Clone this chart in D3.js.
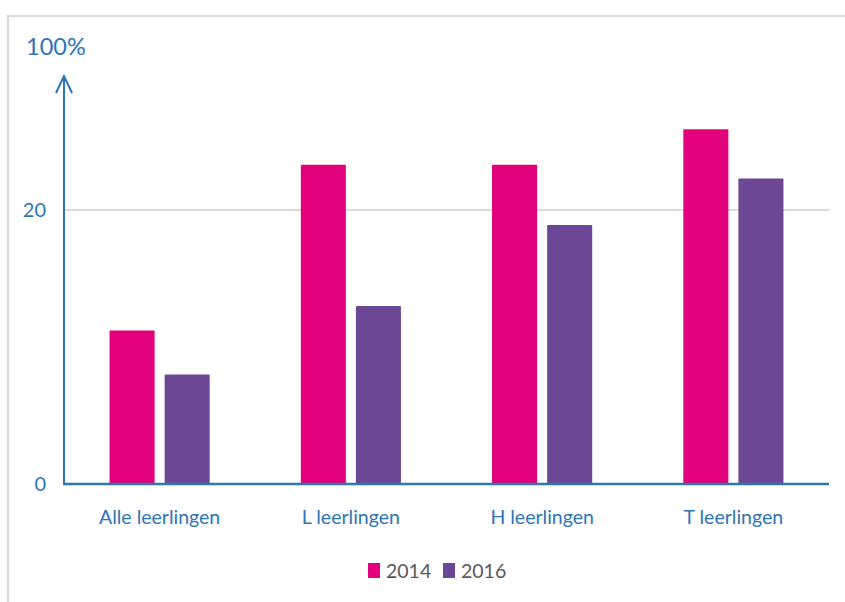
<!DOCTYPE html>
<html>
<head>
<meta charset="utf-8">
<script src="https://cdn.jsdelivr.net/npm/d3@7"></script>
<style>
  html, body { margin: 0; padding: 0; background: #fff; }
  svg { display: block; }
  text { font-family: Lato, "Open Sans", sans-serif; }
</style>
</head>
<body>
<svg id="chart" width="845" height="602"></svg>
<script>
const categories = ["Alle leerlingen", "L leerlingen", "H leerlingen", "T leerlingen"];
const seriesNames = ["2014", "2016"];
const values2014 = [11.2, 23.3, 23.3, 25.9];
const values2016 = [8.0, 13.0, 18.9, 22.3];
const tickValues = [0, 20];
const topLabel = "100%";
const colors = ["#E3007B", "#6C4795"];

const svg = d3.select("#chart");
const W = 845, H = 602;
const left = 64, right = 829, base = 484;

// frame
svg.append("rect").attr("x", 8).attr("y", 16).attr("width", W + 20).attr("height", H + 20)
  .attr("fill", "none").attr("stroke", "#D9D9D9").attr("stroke-width", 2);

const y = d3.scaleLinear().domain([0, 20]).range([base, 210]);
const x0 = d3.scaleBand().domain(categories).range([left, right]).paddingInner(0.4764).paddingOuter(0.2382);
const x1 = d3.scaleBand().domain(seriesNames).range([0, x0.bandwidth()]).paddingInner(0.1818).paddingOuter(0);

// gridlines
svg.append("g").selectAll("line").data(tickValues.filter(d => d > 0)).join("line")
  .attr("x1", left).attr("x2", right).attr("y1", d => y(d)).attr("y2", d => y(d))
  .attr("stroke", "#D9D9D9").attr("stroke-width", 2);

// tick labels
svg.append("g").selectAll("text").data(tickValues).join("text")
  .attr("x", 46).attr("y", d => y(d)).attr("dy", "0.36em")
  .attr("text-anchor", "end").attr("fill", "#2E75B6").attr("font-size", 20)
  .text(d => d);

// bars
const data = categories.map((c, i) => ({ cat: c, vals: [values2014[i], values2016[i]] }));
const groups = svg.append("g").selectAll("g").data(data).join("g")
  .attr("transform", d => `translate(${x0(d.cat)},0)`);
groups.selectAll("rect").data(d => d.vals.map((v, j) => ({ s: seriesNames[j], v, j })))
  .join("rect")
  .attr("x", d => x1(d.s)).attr("width", x1.bandwidth())
  .attr("y", d => y(d.v)).attr("height", d => y(0) - y(d.v))
  .attr("rx", 1)
  .attr("fill", d => colors[d.j]);

// x axis line
svg.append("line").attr("x1", left).attr("x2", right).attr("y1", base).attr("y2", base)
  .attr("stroke", "#2E75B6").attr("stroke-width", 2.5);
// y axis line with arrow
const arrowTop = 76;
svg.append("line").attr("x1", left).attr("x2", left).attr("y1", base + 1).attr("y2", arrowTop)
  .attr("stroke", "#2E75B6").attr("stroke-width", 2);
svg.append("path").attr("d", `M${left - 8},${arrowTop + 17} L${left},${arrowTop} L${left + 8},${arrowTop + 17}`)
  .attr("fill", "none").attr("stroke", "#2E75B6").attr("stroke-width", 2);
svg.append("text").attr("x", 26).attr("y", 55).attr("fill", "#2E75B6").attr("font-size", 23.5).text(topLabel);

// category labels
svg.append("g").selectAll("text").data(categories).join("text")
  .attr("x", d => x0(d) + x0.bandwidth() / 2).attr("y", 524)
  .attr("text-anchor", "middle").attr("fill", "#2E75B6").attr("font-size", 19.5)
  .text(d => d);

// legend
const legendX = [368, 443];
const lg = svg.append("g").selectAll("g").data(seriesNames).join("g")
  .attr("transform", (d, i) => `translate(${legendX[i]},0)`);
lg.append("rect").attr("x", 0).attr("y", 563).attr("width", 12).attr("height", 15)
  .attr("fill", (d, i) => colors[i]);
lg.append("text").attr("x", 18).attr("y", 578).attr("fill", "#595959").attr("font-size", 19.5).text(d => d);
</script>
</body>
</html>
